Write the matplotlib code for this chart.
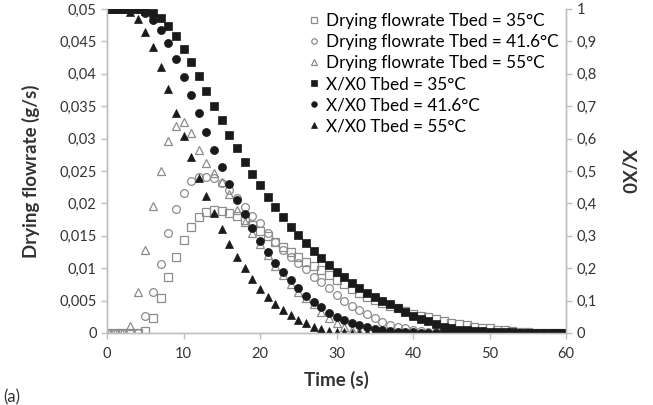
import matplotlib.pyplot as plt
import numpy as np

plt.rcParams['font.family'] = ['Lato', 'DejaVu Sans']

# time axis (s), one point per second
time_s = list(range(61))

# drying flowrate (g/s)
flow_35 = [0, 0, 0, 0, 0, 0.0003, 0.0023, 0.0054, 0.0087, 0.0118,
           0.0144, 0.0164, 0.0179, 0.0187, 0.0190, 0.0188, 0.0185, 0.0180, 0.0174, 0.0167,
           0.0157, 0.0150, 0.0141, 0.0133, 0.0125, 0.0117, 0.0110, 0.0103, 0.0097, 0.0090,
           0.0082, 0.0075, 0.0068, 0.0062, 0.0056, 0.0051, 0.0046, 0.0042, 0.0038, 0.0034,
           0.0030, 0.0027, 0.0024, 0.0022, 0.0019, 0.0016, 0.0014, 0.0012, 0.0010, 0.0008,
           0.0007, 0.0005, 0.0004, 0.0003, 0.0002, 0.0001, 0, 0, 0, 0, 0]
flow_41 = [0, 0, 0, 0, 0, 0.0026, 0.0064, 0.0107, 0.0154, 0.0191,
           0.0216, 0.0234, 0.0241, 0.0241, 0.0239, 0.0232, 0.0221, 0.0209, 0.0195, 0.0181,
           0.0169, 0.0154, 0.0141, 0.0128, 0.0118, 0.0108, 0.0098, 0.0087, 0.0078, 0.0069,
           0.0059, 0.0050, 0.0042, 0.0035, 0.0029, 0.0023, 0.0017, 0.0013, 0.0010, 0.0007,
           0.0005, 0.0003, 0.0002, 0.0001, 0, 0, 0, 0, 0, 0,
           0, 0, 0, 0, 0, 0, 0, 0, 0, 0, 0]
flow_55 = [0, 0, 0, 0.0011, 0.0063, 0.0128, 0.0196, 0.0250, 0.0297, 0.0320,
           0.0326, 0.0309, 0.0283, 0.0262, 0.0247, 0.0233, 0.0214, 0.0190, 0.0172, 0.0155,
           0.0138, 0.0120, 0.0104, 0.0090, 0.0076, 0.0064, 0.0054, 0.0044, 0.0033, 0.0023,
           0.0015, 0.0009, 0.0005, 0.0003, 0.0001, 0, 0, 0, 0, 0,
           0, 0, 0, 0, 0, 0, 0, 0, 0, 0,
           0, 0, 0, 0, 0, 0, 0, 0, 0, 0, 0]

# X/X0
x_35 = [1, 1, 1, 1, 1, 0.995, 0.987, 0.971, 0.948, 0.917,
        0.877, 0.836, 0.793, 0.748, 0.701, 0.657, 0.611, 0.572, 0.529, 0.491,
        0.456, 0.421, 0.388, 0.357, 0.328, 0.302, 0.278, 0.254, 0.230, 0.209,
        0.189, 0.172, 0.154, 0.138, 0.123, 0.111, 0.099, 0.088, 0.077, 0.066,
        0.054, 0.044, 0.036, 0.028, 0.020, 0.015, 0.010, 0.008, 0.006, 0.005,
        0.004, 0.003, 0.002, 0.002, 0.001, 0.001, 0, 0, 0, 0, 0]
x_41 = [1, 1, 1, 1, 1, 0.987, 0.966, 0.935, 0.896, 0.845,
        0.791, 0.735, 0.678, 0.619, 0.565, 0.511, 0.460, 0.412, 0.366, 0.323,
        0.285, 0.251, 0.216, 0.188, 0.164, 0.139, 0.115, 0.097, 0.080, 0.063,
        0.050, 0.040, 0.032, 0.024, 0.018, 0.012, 0.009, 0.006, 0.004, 0.003,
        0.002, 0.001, 0.001, 0, 0, 0, 0, 0, 0, 0,
        0, 0, 0, 0, 0, 0, 0, 0, 0, 0, 0]
x_55 = [1, 1, 1, 0.99, 0.968, 0.930, 0.882, 0.822, 0.752, 0.678,
        0.608, 0.542, 0.477, 0.424, 0.369, 0.320, 0.275, 0.235, 0.200, 0.166,
        0.137, 0.110, 0.090, 0.071, 0.056, 0.040, 0.030, 0.019, 0.012, 0.007,
        0.004, 0.002, 0.001, 0, 0, 0, 0, 0, 0, 0,
        0, 0, 0, 0, 0, 0, 0, 0, 0, 0,
        0, 0, 0, 0, 0, 0, 0, 0, 0, 0, 0]

labels = ['Drying flowrate Tbed = 35°C', 'Drying flowrate Tbed = 41.6°C',
          'Drying flowrate Tbed = 55°C', 'X/X0 Tbed = 35°C',
          'X/X0 Tbed = 41.6°C', 'X/X0 Tbed = 55°C']

grey = '#8c8c8c'
black = '#1a1a1a'
axis_col = '#bfbfbf'
text_col = '#333333'

fig = plt.figure(figsize=(6.53, 4.05), dpi=100)
ax = fig.add_axes([107/653, 1 - 333/405, (566 - 107)/653, (333 - 9)/405])
ax2 = ax.twinx()

ms = 5.2
h = []
h += ax.plot(time_s, flow_35, ls='none', marker='s', ms=ms, mfc='none', mec=grey, mew=0.9)
h += ax.plot(time_s, flow_41, ls='none', marker='o', ms=ms + 0.4, mfc='none', mec=grey, mew=0.9)
h += ax.plot(time_s, flow_55, ls='none', marker='^', ms=ms + 0.4, mfc='none', mec=grey, mew=0.9)
h += ax2.plot(time_s, x_35, ls='none', marker='s', ms=ms, mfc=black, mec=black, mew=0.5)
h += ax2.plot(time_s, x_41, ls='none', marker='o', ms=ms + 0.6, mfc=black, mec=black, mew=0.5)
h += ax2.plot(time_s, x_55, ls='none', marker='^', ms=ms + 0.6, mfc=black, mec=black, mew=0.5)

ax.set_xlim(0, 60)
ax.set_ylim(0, 0.05)
ax2.set_ylim(0, 1)
ax.set_xticks(range(0, 61, 10))
ax.set_yticks(np.arange(0, 0.0501, 0.005))
ax2.set_yticks(np.arange(0, 1.01, 0.1))

def comma(v, dec):
    if abs(v) < 1e-12:
        return '0'
    s = ('%.' + str(dec) + 'f') % v
    s = s.rstrip('0').rstrip('.')
    return s.replace('.', ',')

ax.set_yticklabels([comma(v, 3) for v in ax.get_yticks()])
ax2.set_yticklabels([comma(v, 1) for v in ax2.get_yticks()])

for a in (ax, ax2):
    a.spines['top'].set_visible(False)
    for side in ('left', 'right', 'bottom'):
        a.spines[side].set_color(axis_col)
        a.spines[side].set_linewidth(1.0)
    a.tick_params(colors=axis_col, labelcolor=text_col, labelsize=10.5, length=4, width=1)
ax.tick_params(axis='x', pad=6)

ax.set_xlabel('Time (s)', fontsize=13.5, fontweight='bold', color=text_col, labelpad=7)
ax.set_ylabel('Drying flowrate (g/s)', fontsize=13.5, fontweight='bold', color=text_col, labelpad=14)
ax2.set_ylabel('X/X0', fontsize=13.5, fontweight='bold', color=text_col, rotation=270, labelpad=28)

fig.legend(h, labels, loc='upper left', bbox_to_anchor=(302/653, 1 - 6/405),
           frameon=False, fontsize=12.3, handlelength=0.55, handletextpad=0.45,
           labelspacing=0.3, markerscale=0.7, borderaxespad=0)

fig.text(3/653, 1 - 397/405, '(a)', fontsize=12, color=text_col, va='center')

fig.savefig('out.png', dpi=100, facecolor='white')
